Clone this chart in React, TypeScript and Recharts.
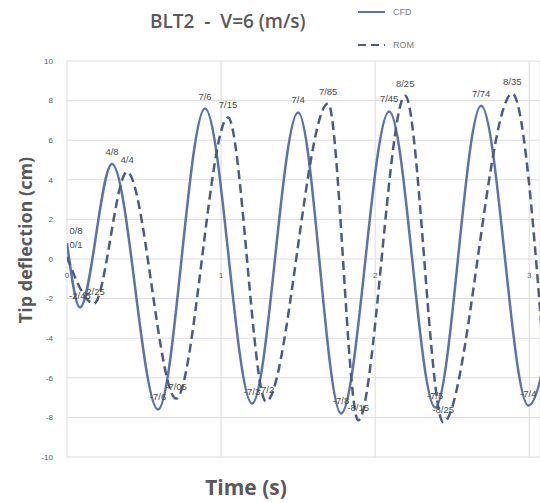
import { LineChart, Line, XAxis, YAxis, CartesianGrid, LabelList } from "recharts";

// tip deflection (cm) at the turning points of each signal, time in seconds
const cfdTime = [0, 0.084, 0.292, 0.591, 0.896, 1.201, 1.5, 1.779, 2.091, 2.39, 2.688, 2.994, 3.3];
const cfdValue = [0.8, -2.45, 4.8, -7.6, 7.6, -7.3, 7.4, -7.8, 7.45, -7.5, 7.74, -7.4, 7.6];

const romTime = [0, 0.175, 0.39, 0.708, 1.045, 1.292, 1.695, 1.89, 2.195, 2.442, 2.89, 3.123];
const romValue = [0.1, -2.25, 4.4, -7.05, 7.15, -7.2, 7.85, -8.15, 8.25, -8.25, 8.35, -8.0];

const xTicks = [0, 1, 2, 3];
const yTicks = [-10, -8, -6, -4, -2, 0, 2, 4, 6, 8, 10];

const X_MAX = 3.07;
const Y_MIN = -10;
const Y_MAX = 10;

const W = 540;
const H = 503;
const TOP = 61;
const BOTTOM = 46;
const LEFT = 67;
const X_AXIS_H = 20;
const Y_AXIS_W = 25;

const cfdColor = "#5a72ae";
const romColor = "#4b5b85";
const gray = "#595959";
const sans = "Liberation Sans, Arial, sans-serif";

const cfdData = cfdTime.map((t, i) => ({ t, v: cfdValue[i] }));
const romData = romTime.map((t, i) => ({ t, v: romValue[i] }));

// labels read like "7/6" for 7.6
const fmt = (v: number) => String(v).replace(".", "/");

const zeroY = TOP + ((H - TOP - BOTTOM) * Y_MAX) / (Y_MAX - Y_MIN);

// value label for every turning point that falls inside the time window
const makeLabel = (times: number[]) =>
  function PointLabel(props: any) {
    const { x, y, value, index } = props;
    if (x == null || y == null || times[index] > X_MAX) return null;
    const first = index === 0;
    return (
      <text x={first ? x + 9 : x} y={y - 9} textAnchor="middle" fontSize={9.5} fill="#4a4a4a" fontFamily={sans}>
        {fmt(value)}
      </text>
    );
  };

const CfdLabel = makeLabel(cfdTime);
const RomLabel = makeLabel(romTime);

// time labels sit along the zero line, not under the plot
function TimeTick(props: any) {
  const { x, payload } = props;
  return (
    <text x={x} y={zeroY + 19} textAnchor="middle" fontSize={8} fill={gray} fontFamily={sans}>
      {payload.value}
    </text>
  );
}

function LegendBox() {
  const item = (color: string, dash: string | undefined, label: string, y: number) => (
    <g key={label}>
      <line x1={0} x2={27} y1={y} y2={y} stroke={color} strokeWidth={2} strokeDasharray={dash} />
      <text x={35} y={y + 3} fontSize={9} fill="#808080" fontFamily={sans}>
        {label}
      </text>
    </g>
  );
  return (
    <svg width={80} height={56} style={{ position: "absolute", top: 0, left: 358 }}>
      {item(cfdColor, undefined, "CFD", 12)}
      {item(romColor, "8 5", "ROM", 45)}
    </svg>
  );
}

export default function App() {
  return (
    <div style={{ position: "absolute", top: 0, left: 0, width: W, height: H, overflow: "hidden", background: "#fff" }}>
      <div
        style={{
          position: "absolute",
          top: 8,
          left: 150,
          fontFamily: "Open Sans, sans-serif",
          fontWeight: 600,
          fontSize: 19,
          color: gray,
          whiteSpace: "pre",
        }}
      >
        {"BLT2  -  V=6 (m/s)"}
      </div>
      <div
        style={{
          position: "absolute",
          left: 25,
          top: 240,
          transform: "translate(-50%, -50%) rotate(-90deg)",
          fontFamily: "Open Sans, sans-serif",
          fontWeight: 700,
          fontSize: 18,
          lineHeight: "22px",
          color: gray,
          whiteSpace: "nowrap",
        }}
      >
        Tip deflection (cm)
      </div>
      <div
        style={{
          position: "absolute",
          left: 246,
          top: 487,
          transform: "translate(-50%, -50%)",
          fontFamily: "Open Sans, sans-serif",
          fontWeight: 700,
          fontSize: 21,
          lineHeight: "24px",
          color: gray,
          whiteSpace: "nowrap",
        }}
      >
        Time (s)
      </div>
      <LegendBox />
      <LineChart
        width={W}
        height={H}
        margin={{ top: TOP, right: 0, bottom: BOTTOM - X_AXIS_H, left: LEFT - Y_AXIS_W }}
      >
        <CartesianGrid stroke="#dcdcdc" strokeWidth={1} />
        <XAxis
          dataKey="t"
          type="number"
          domain={[0, X_MAX]}
          ticks={xTicks}
          allowDataOverflow
          axisLine={false}
          tickLine={false}
          height={X_AXIS_H}
          tick={<TimeTick />}
          interval={0}
        />
        <YAxis
          type="number"
          domain={[Y_MIN, Y_MAX]}
          ticks={yTicks}
          width={Y_AXIS_W}
          axisLine={false}
          tickLine={false}
          tickSize={0}
          tickMargin={14}
          tick={{ fontSize: 8, fill: gray, fontFamily: sans }}
          interval={0}
        />
        <Line
          data={cfdData}
          dataKey="v"
          name="CFD"
          type="monotone"
          stroke={cfdColor}
          strokeWidth={2.5}
          dot={false}
          isAnimationActive={false}
        >
          <LabelList dataKey="v" content={<CfdLabel />} />
        </Line>
        <Line
          data={romData}
          dataKey="v"
          name="ROM"
          type="monotone"
          stroke={romColor}
          strokeWidth={2.5}
          strokeDasharray="9 5"
          dot={false}
          isAnimationActive={false}
        >
          <LabelList dataKey="v" content={<RomLabel />} />
        </Line>
      </LineChart>
    </div>
  );
}
